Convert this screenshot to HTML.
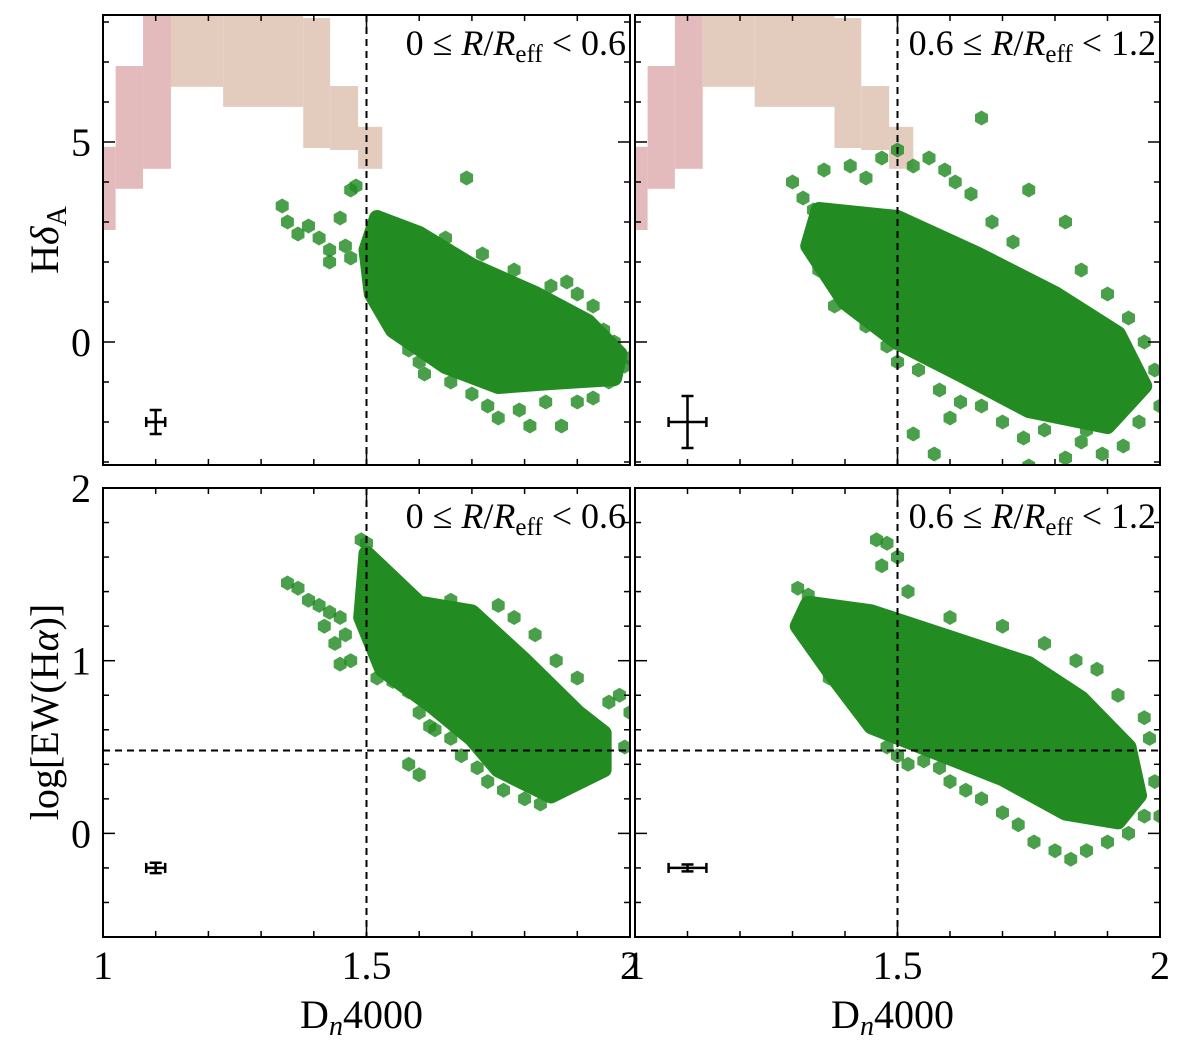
<!DOCTYPE html>
<html><head><meta charset="utf-8">
<style>
html,body{margin:0;padding:0;background:#fff;}
svg{display:block;font-family:"Liberation Serif",serif;}
</style></head>
<body>
<svg id="fig" width="1200" height="1056" viewBox="0 0 1200 1056"></svg>
<script>
// ---- data ----
const xTicks = [1, 1.5, 2];
const xTickLabels = ["1", "1.5", "2"];
const topYTicks = [0, 5];
const topYTickLabels = ["0", "5"];
const botYTicks = [0, 1, 2];
const botYTickLabels = ["0", "1", "2"];
const vLine = 1.5;
const hLine = 0.48;
// model grid bands [x0,x1,ylo,yhi]
const pinkBands = [[1.0,1.024,2.8,4.88],[1.024,1.076,3.83,6.9],[1.076,1.129,4.33,8.5]];
const tanBands = [[1.129,1.228,6.38,8.5],[1.228,1.38,5.88,8.5],[1.38,1.431,4.85,8.1],[1.431,1.484,4.8,6.4],[1.484,1.53,4.33,5.38]];
// dense cores (hull of overlapping markers)
const coreTL = [[1.52,3.1],[1.6,2.7],[1.7,1.9],[1.82,1.2],[1.92,0.5],[1.98,-0.3],[1.97,-0.9],[1.85,-1.0],[1.75,-1.1],[1.65,-0.6],[1.55,0.3],[1.51,1.2],[1.5,2.3]];
const coreTR = [[1.35,3.3],[1.5,3.1],[1.65,2.2],[1.8,1.2],[1.92,0.2],[1.97,-1.1],[1.9,-2.1],[1.75,-1.7],[1.62,-0.8],[1.5,0],[1.4,1.0],[1.33,2.4]];
const coreBL = [[1.5,1.62],[1.6,1.33],[1.7,1.28],[1.8,1.0],[1.9,0.7],[1.95,0.58],[1.95,0.37],[1.85,0.22],[1.75,0.37],[1.7,0.55],[1.62,0.75],[1.53,0.95],[1.49,1.25]];
const coreBR = [[1.33,1.33],[1.45,1.28],[1.6,1.13],[1.75,0.98],[1.85,0.78],[1.94,0.5],[1.96,0.22],[1.92,0.07],[1.82,0.12],[1.7,0.32],[1.55,0.5],[1.45,0.62],[1.38,0.9],[1.31,1.2]];
// scattered points
const ptsTL = [[1.34,3.4],[1.35,3.0],[1.37,2.7],[1.39,2.9],[1.41,2.6],[1.43,2.3],[1.45,3.1],[1.46,2.4],[1.47,3.8],[1.48,3.9],[1.47,2.1],[1.43,2.0],[1.52,1.6],[1.54,0.9],[1.56,0.4],[1.58,-0.2],[1.61,-0.8],[1.66,-1.0],[1.7,-1.3],[1.73,-1.6],[1.75,-1.9],[1.79,-1.7],[1.81,-2.1],[1.84,-1.5],[1.87,-2.1],[1.9,-1.5],[1.93,-1.4],[1.96,-1.0],[1.99,-0.6],[2.0,-0.4],[1.88,1.5],[1.9,1.2],[1.93,0.9],[1.95,0.3],[1.97,0.0],[1.85,1.4],[1.78,1.8],[1.72,2.2],[1.69,4.1],[1.65,2.6],[1.77,-0.9],[1.6,-0.5]];
const ptsTR = [[1.3,4.0],[1.32,3.6],[1.34,3.3],[1.36,4.3],[1.38,3.0],[1.41,4.4],[1.44,4.1],[1.47,4.6],[1.5,4.8],[1.53,4.4],[1.56,4.6],[1.59,4.3],[1.61,4.0],[1.64,3.7],[1.66,5.6],[1.68,3.0],[1.72,2.5],[1.75,3.8],[1.82,3.0],[1.85,1.8],[1.9,1.2],[1.94,0.6],[1.97,0.0],[1.99,-0.7],[2.0,-1.6],[1.96,-2.0],[1.93,-2.6],[1.89,-2.8],[1.85,-2.5],[1.82,-2.9],[1.78,-2.2],[1.74,-2.4],[1.7,-2.0],[1.66,-1.6],[1.62,-1.5],[1.6,-1.9],[1.58,-1.2],[1.54,-0.7],[1.5,-0.5],[1.48,-0.1],[1.44,0.4],[1.38,0.9],[1.35,1.8],[1.53,-2.3],[1.57,-2.8],[1.75,-3.1],[1.86,-2.2]];
const ptsBL = [[1.35,1.45],[1.37,1.42],[1.39,1.35],[1.41,1.32],[1.43,1.28],[1.45,1.25],[1.42,1.2],[1.44,1.1],[1.46,1.15],[1.47,1.0],[1.45,0.98],[1.49,1.7],[1.5,1.68],[1.52,0.9],[1.55,0.88],[1.58,0.82],[1.6,0.7],[1.62,0.62],[1.66,0.55],[1.68,0.45],[1.71,0.38],[1.73,0.3],[1.76,0.25],[1.8,0.2],[1.83,0.17],[1.86,0.26],[1.9,0.4],[1.93,0.62],[1.96,0.76],[1.98,0.8],[2.0,0.7],[1.99,0.5],[1.9,0.9],[1.86,1.0],[1.82,1.15],[1.78,1.25],[1.75,1.32],[1.66,1.35],[1.58,0.4],[1.6,0.34],[1.63,0.6],[1.56,1.45]];
const ptsBR = [[1.31,1.42],[1.33,1.38],[1.35,1.3],[1.34,1.2],[1.36,1.1],[1.38,1.0],[1.37,0.9],[1.4,0.85],[1.42,0.78],[1.45,0.7],[1.48,0.5],[1.5,0.45],[1.52,0.4],[1.55,0.42],[1.58,0.38],[1.6,0.3],[1.63,0.25],[1.66,0.2],[1.7,0.12],[1.73,0.05],[1.76,-0.05],[1.8,-0.1],[1.83,-0.15],[1.86,-0.1],[1.9,-0.05],[1.94,0.0],[1.97,0.1],[2.0,0.1],[1.99,0.3],[1.98,0.55],[1.97,0.67],[1.92,0.8],[1.88,0.95],[1.84,1.0],[1.78,1.1],[1.7,1.2],[1.6,1.25],[1.52,1.4],[1.5,1.6],[1.48,1.68],[1.46,1.7],[1.47,1.55],[1.58,0.75],[1.62,0.6],[1.75,0.45]];
// error bars [x, y, dx, dy]
const errTL = [1.1, -2.0, 0.018, 0.3];
const errTR = [1.1, -2.0, 0.036, 0.65];
const errBL = [1.1, -0.2, 0.018, 0.03];
const errBR = [1.1, -0.2, 0.036, 0.02];

// ---- drawing ----
const NS = "http://www.w3.org/2000/svg";
const svg = document.getElementById("fig");
function mk(tag, attrs, parent) {
  const e = document.createElementNS(NS, tag);
  for (const k in attrs) e.setAttribute(k, attrs[k]);
  (parent || svg).appendChild(e);
  return e;
}
const panels = [
  {name:"top-left", x0:103, x1:630, y0:15, y1:465, ymin:-3.075, ymax:8.175, core:coreTL, pts:ptsTL, err:errTL, top:true, left:true, label:["0","0.6"]},
  {name:"top-right", x0:635, x1:1160, y0:15, y1:465, ymin:-3.075, ymax:8.175, core:coreTR, pts:ptsTR, err:errTR, top:true, left:false, label:["0.6","1.2"]},
  {name:"bottom-left", x0:103, x1:630, y0:488, y1:937, ymin:-0.6, ymax:2.0, core:coreBL, pts:ptsBL, err:errBL, top:false, left:true, label:["0","0.6"]},
  {name:"bottom-right", x0:635, x1:1160, y0:488, y1:937, ymin:-0.6, ymax:2.0, core:coreBR, pts:ptsBR, err:errBR, top:false, left:false, label:["0.6","1.2"]}
];
function hexPts(cx, cy, r) {
  let s = "";
  for (let i = 0; i < 6; i++) { const a = Math.PI/3*i + Math.PI/6; s += (cx + r*Math.cos(a)).toFixed(1) + "," + (cy + r*Math.sin(a)).toFixed(1) + " "; }
  return s;
}
const GREEN = "#228B22";
panels.forEach((p, pi) => {
  const X = v => p.x0 + (v - 1) / 1 * (p.x1 - p.x0);
  const Y = v => p.y1 - (v - p.ymin) / (p.ymax - p.ymin) * (p.y1 - p.y0);
  const g = mk("g", { });
  const cid = "clip" + pi;
  const cp = mk("clipPath", {id: cid}, g);
  mk("rect", {x:p.x0, y:p.y0, width:p.x1-p.x0, height:p.y1-p.y0}, cp);
  const plot = mk("g", {"clip-path": "url(#" + cid + ")"}, g);
  
  
  if (p.top) {
    pinkBands.forEach(b => {
      const r = mk("rect", {x:X(b[0]), y:Y(b[3]), width:X(b[1])-X(b[0]), height:Y(b[2])-Y(b[3]), fill:"#e4bbbd"}, plot);
      
      
    });
    tanBands.forEach(b => {
      const r = mk("rect", {x:X(b[0]), y:Y(b[3]), width:X(b[1])-X(b[0]), height:Y(b[2])-Y(b[3]), fill:"#e3cbbd"}, plot);
      
      
    });
  }
  const core = mk("polygon", {points: p.core.map(c => X(c[0]) + "," + Y(c[1])).join(" "), fill:GREEN, stroke:GREEN, "stroke-width":16, "stroke-linejoin":"round"}, plot);
  
  
  p.pts.forEach(c => {
    const h = mk("polygon", {points: hexPts(X(c[0]), Y(c[1]), 7.5), fill:GREEN, "fill-opacity":0.82}, plot);
    
    
  });
  const vl = mk("line", {x1:X(vLine), x2:X(vLine), y1:p.y0, y2:p.y1, stroke:"#000", "stroke-width":2, "stroke-dasharray":"7,5"}, plot);
  
  
  if (!p.top) {
    const hl = mk("line", {x1:p.x0, x2:p.x1, y1:Y(hLine), y2:Y(hLine), stroke:"#000", "stroke-width":2, "stroke-dasharray":"7,5"}, plot);
    
    
  }
  const e = p.err;
  const eg = mk("g", {stroke:"#000", "stroke-width":2.5}, g);
  
  
  mk("line", {x1:X(e[0]-e[2]), x2:X(e[0]+e[2]), y1:Y(e[1]), y2:Y(e[1])}, eg);
  mk("line", {x1:X(e[0]), x2:X(e[0]), y1:Y(e[1]-e[3]), y2:Y(e[1]+e[3])}, eg);
  mk("line", {x1:X(e[0]-e[2]), x2:X(e[0]-e[2]), y1:Y(e[1])-5, y2:Y(e[1])+5}, eg);
  mk("line", {x1:X(e[0]+e[2]), x2:X(e[0]+e[2]), y1:Y(e[1])-5, y2:Y(e[1])+5}, eg);
  mk("line", {x1:X(e[0])-6, x2:X(e[0])+6, y1:Y(e[1]-e[3]), y2:Y(e[1]-e[3])}, eg);
  mk("line", {x1:X(e[0])-6, x2:X(e[0])+6, y1:Y(e[1]+e[3]), y2:Y(e[1]+e[3])}, eg);
  const tg = mk("g", {stroke:"#000", "stroke-width":1.5}, g);
  
  
  for (let i = 0; i <= 10; i++) {
    const v = 1 + i * 0.1, px = X(v), L = (i % 5 === 0) ? 12 : 6;
    mk("line", {x1:px, x2:px, y1:p.y1, y2:p.y1 - L}, tg);
    mk("line", {x1:px, x2:px, y1:p.y0, y2:p.y0 + L}, tg);
  }
  const step = p.top ? 1 : 0.2, majorEvery = p.top ? 5 : 1;
  for (let v = Math.ceil(p.ymin / step) * step; v <= p.ymax + 1e-9; v += step) {
    const py = Y(v);
    const isMajor = Math.abs(v / majorEvery - Math.round(v / majorEvery)) < 1e-6;
    const L = isMajor ? 12 : 6;
    mk("line", {x1:p.x0, x2:p.x0 + L, y1:py, y2:py}, tg);
    mk("line", {x1:p.x1, x2:p.x1 - L, y1:py, y2:py}, tg);
  }
  const fr = mk("rect", {x:p.x0, y:p.y0, width:p.x1-p.x0, height:p.y1-p.y0, fill:"none", stroke:"#000", "stroke-width":2}, g);
  
  
  if (p.left) {
    const yt = p.top ? topYTicks : botYTicks, yl = p.top ? topYTickLabels : botYTickLabels;
    yt.forEach((v, i) => {
      const t = mk("text", {x:p.x0 - 12, y:Y(v) + 14, "text-anchor":"end", "font-size":40}, g);
      t.textContent = yl[i];
      
      
    });
  }
  if (!p.top) {
    xTicks.forEach((v, i) => {
      const t = mk("text", {x:X(v), y:p.y1 + 42, "text-anchor":"middle", "font-size":40}, g);
      t.textContent = xTickLabels[i];
      
      
    });
    const xt = mk("text", {x:(p.x0 + p.x1) / 2 - 5, y:1028, "text-anchor":"middle", "font-size":40}, g);
    xt.innerHTML = 'D<tspan font-style="italic" font-size="28" dy="7">n</tspan><tspan dy="-7">4000</tspan>';
    
    
  }
  const lt = mk("text", {x:p.x1 - 4, y:p.y0 + 40, "text-anchor":"end", "font-size":36}, g);
  lt.innerHTML = p.label[0] + ' ≤ <tspan font-style="italic">R</tspan>/<tspan font-style="italic">R</tspan><tspan font-size="25" dy="7">eff</tspan><tspan dy="-7"> &lt; ' + p.label[1] + '</tspan>';
  
  
});
const yt1 = mk("text", {transform:"translate(58,240) rotate(-90)", "text-anchor":"middle", "font-size":40});
yt1.innerHTML = 'H<tspan font-style="italic">δ</tspan><tspan font-size="28" dy="8">A</tspan>';


const yt2 = mk("text", {transform:"translate(58,712) rotate(-90)", "text-anchor":"middle", "font-size":40});
yt2.innerHTML = 'log[EW(H<tspan font-style="italic">α</tspan>)]';


</script>
</body></html>
